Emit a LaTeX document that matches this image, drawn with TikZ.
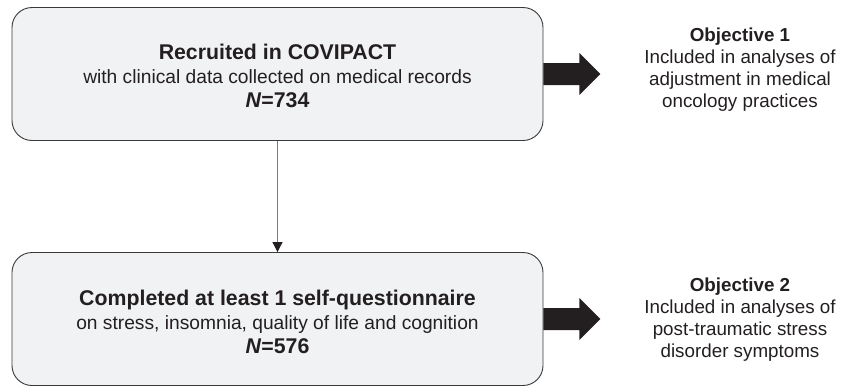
\documentclass[tikz,border=0pt]{standalone}
\usepackage{fontspec}
\setmainfont{Liberation Sans}
\usetikzlibrary{positioning,calc,arrows.meta}
\definecolor{boxfill}{HTML}{F1F2F4}
\definecolor{boxline}{HTML}{3A3A3A}
\definecolor{flowgray}{HTML}{7A7A7A}
\definecolor{arrowblack}{HTML}{231F20}
\definecolor{textdark}{HTML}{231F20}
\newcommand{\boxhead}[1]{{\fontsize{21.3}{24}\selectfont\bfseries #1}}

\begin{document}
\begin{tikzpicture}[x=1pt, y=-1pt,
        stagebox/.style={draw=boxline, line width=0.9pt, fill=boxfill, rounded corners=20pt,
            minimum width=531pt, minimum height=133pt, inner sep=0pt},
        stagetext/.style={align=center, text=textdark, font=\fontsize{19.2}{24}\selectfont},
        objtext/.style={align=center, text=textdark, font=\fontsize{18.8}{22}\selectfont},
        blockarrow/.style={fill=arrowblack},
        flow/.style={draw=flowgray, line width=1pt, -{Triangle[color=arrowblack, length=10pt, width=10pt]}}]
    \useasboundingbox (0,0) rectangle (842,386);

    % Stages
    \node[stagebox] (recruit) at (277.5,74) {};
    \node[stagetext] (recruittext) at ([yshift=-2pt]recruit.center)
        {\boxhead{Recruited in COVIPACT}\\with clinical data collected on medical records\\\boxhead{\textit{N}=734}};
    \node[stagebox] (complete) at (277.5,319) {};
    \node[stagetext] (completetext) at ([yshift=-3pt]complete.center)
        {\boxhead{Completed at least 1 self-questionnaire}\\on stress, insomnia, quality of life and cognition\\\boxhead{\textit{N}=576}};

    % Objectives
    \node[objtext] (obj1) at (740,70) {\textbf{Objective 1}\\Included in analyses of\\adjustment in medical\\oncology practices};
    \node[objtext] (obj2) at (740,320) {\textbf{Objective 2}\\Included in analyses of\\post-traumatic stress\\disorder symptoms};

    % Flow
    \draw[flow] (recruit) -- (complete);

    % Block arrows
    \fill[blockarrow] (recruit.east) ++(0,-11) -- ++(36,0) -- ++(0,-10) -- ++(21,21)
        -- ++(-21,21) -- ++(0,-10) -- ++(-36,0) -- cycle;
    \fill[blockarrow] (complete.east) ++(0,-11) -- ++(36,0) -- ++(0,-10) -- ++(21,21)
        -- ++(-21,21) -- ++(0,-10) -- ++(-36,0) -- cycle;
\end{tikzpicture}
\end{document}
